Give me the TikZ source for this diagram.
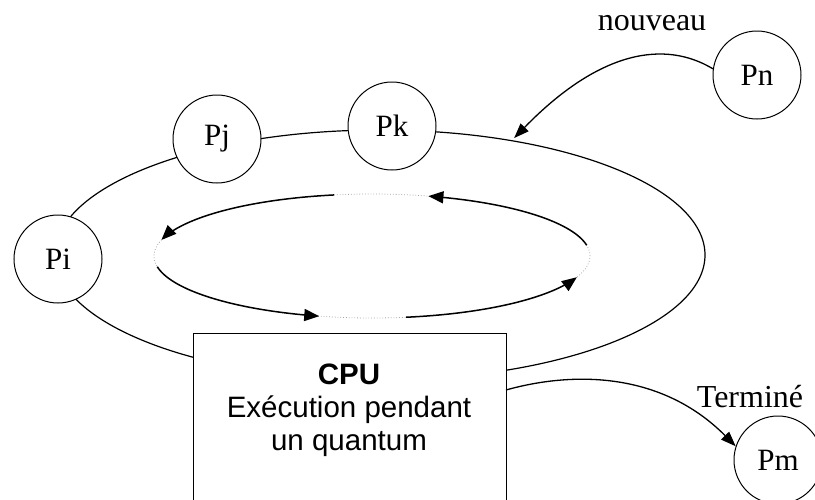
\documentclass[tikz,border=0pt]{standalone}
\usepackage{fontspec}
\setmainfont{Liberation Serif}
\setsansfont{Liberation Sans}
\usetikzlibrary{arrows.meta,shapes.geometric}
\begin{document}
\begin{tikzpicture}[x=1pt,y=-1pt,
  proc/.style={circle,draw,fill=white,line width=1pt,minimum size=88pt,inner sep=0pt,font=\fontsize{31}{33}\selectfont},
  lbl/.style={font=\fontsize{32}{34}\selectfont,inner sep=0pt,anchor=base},
  cycarrow/.style={line width=1.5pt,-{Triangle[length=15pt,width=12pt]}},
  conn/.style={line width=1.3pt,-{Triangle[length=15pt,width=11pt]}},
  gapline/.style={gray!70,dotted,line width=0.8pt}
  ]
\useasboundingbox (0,0) rectangle (815,499);
% large ring
\node[ellipse,draw,line width=1.2pt,minimum width=650pt,minimum height=250pt,inner sep=0pt] (ring) at (380,255) {};
% inner cycle
\draw[gapline] (372,256) ellipse [x radius=218pt, y radius=62pt];
\draw[cycarrow] plot[domain=350:285,samples=40] ({372+218*cos(\x)},{256+62*sin(\x)});
\draw[cycarrow] plot[domain=260:195,samples=40] ({372+218*cos(\x)},{256+62*sin(\x)});
\draw[cycarrow] plot[domain=170:104,samples=40] ({372+218*cos(\x)},{256+62*sin(\x)});
\draw[cycarrow] plot[domain=81:20,samples=40] ({372+218*cos(\x)},{256+62*sin(\x)});
% processes
\node[proc] (Pi) at (58,259) {Pi};
\node[proc] (Pj) at (217,139) {Pj};
\node[proc] (Pk) at (392,126) {Pk};
\node[proc] (Pn) at (757,75) {Pn};
\node[proc] (Pm) at (778,460) {Pm};
% CPU box
\node[draw,fill=white,line width=1.2pt,minimum width=313pt,minimum height=220pt,inner sep=0pt,anchor=north west] (cpu) at (193,333) {};
\node[font=\sffamily\fontsize{29.5}{33}\selectfont,align=center,inner sep=0pt] (cputxt) at (349,410) {\textbf{CPU}\\Exécution pendant\\un quantum};
% labels
\node[lbl] (nouv) at (652,30) {nouveau};
\node[lbl] (term) at (750,407) {Terminé};
% connectors
\coordinate (cpuout) at (506,390);
\draw[conn,shorten >=3pt] (Pn.172) .. controls (665,40) and (600,50) .. (ring.41);
\draw[conn] (cpuout) .. controls (570,372) and (660,370) .. (Pm.162);
\end{tikzpicture}
\end{document}
